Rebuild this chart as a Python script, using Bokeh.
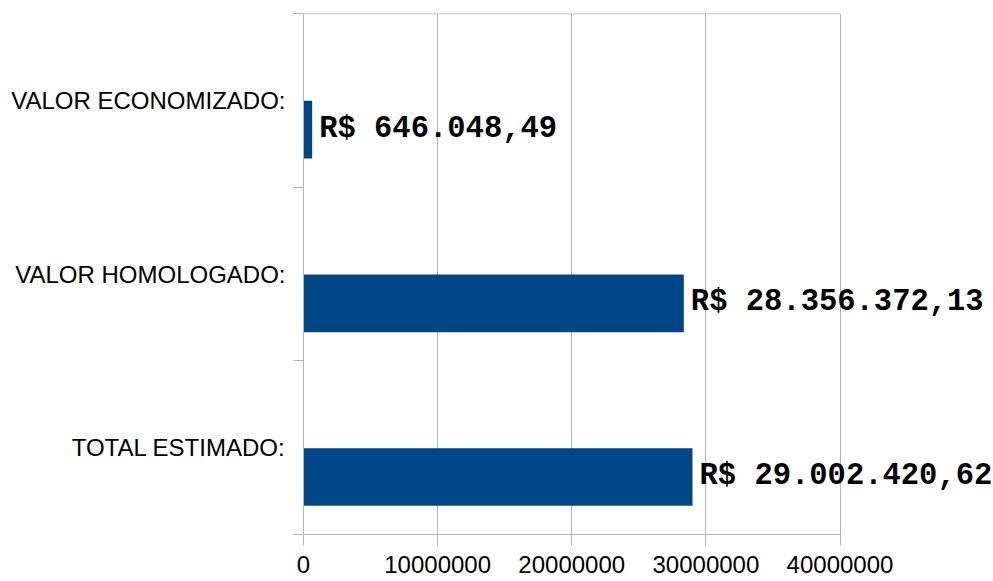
from bokeh.plotting import figure
from bokeh.models import ColumnDataSource, Range1d, FixedTicker, LabelSet
from bokeh.core.properties import value
from bokeh.embed import file_html
from bokeh.resources import INLINE

# Data (bottom to top)
categories = ["TOTAL ESTIMADO:", "VALOR HOMOLOGADO:", "VALOR ECONOMIZADO:"]
values = [29002420.62, 28356372.13, 646048.49]
x_ticks = [0, 10000000, 20000000, 30000000, 40000000]
x_tick_labels = ["0", "10000000", "20000000", "30000000", "40000000"]


def brl(v):
    s = f"{v:,.2f}"
    s = s.replace(",", "X").replace(".", ",").replace("X", ".")
    return "R$ " + s


labels = [brl(v) for v in values]

GRID = "#b3b3b3"
BAR = "#004586"
BAR_SHIFT = -0.169   # bars sit slightly below the category centre
BAR_H = 0.332

n = len(categories)
centers = [i + 0.5 for i in range(n)]
bar_y = [c + BAR_SHIFT for c in centers]
x_axis_max = x_ticks[-1]
# the frame is widened past the last tick so the value labels are not clipped
x_view_max = x_axis_max * 690 / 536.5

source = ColumnDataSource(data=dict(cat=categories, y=bar_y, val=values, lab=labels))

p = figure(width=993, height=581, x_range=Range1d(0, x_view_max), y_range=Range1d(0, n),
           output_backend="svg", toolbar_location=None,
           min_border_left=303, min_border_right=0, min_border_top=13, min_border_bottom=47)

p.outline_line_color = None
p.background_fill_color = "white"
p.border_fill_color = "white"

# top border of the plot area
p.segment(x0=[0], y0=[n], x1=[x_axis_max], y1=[n], line_color=GRID, line_width=1.5)

p.hbar(y="y", right="val", left=0, height=BAR_H,
       source=source, fill_color=BAR, line_color=None)

lbl = LabelSet(x="val", y="y", text="lab", source=source,
               x_offset=7, y_offset=1, text_baseline="middle", text_align="left",
               text_font=value("Liberation Mono"), text_font_style="bold",
               text_font_size="30.5px", text_color="black")
p.add_layout(lbl)

ya = p.yaxis[0]
ya.ticker = FixedTicker(ticks=centers, minor_ticks=list(range(n + 1)))
ya.major_label_overrides = {c: cat for c, cat in zip(centers, categories)}
ya.axis_line_color = GRID
ya.major_tick_line_color = None
ya.major_tick_out = 10
ya.major_tick_in = 0
ya.minor_tick_out = 10
ya.minor_tick_in = 0
ya.minor_tick_line_color = GRID
ya.major_label_standoff = 8
ya.major_label_text_font = "Liberation Sans"
ya.major_label_text_font_size = "24px"
ya.major_label_text_color = "black"

xa = p.xaxis[0]
xa.ticker = FixedTicker(ticks=x_ticks, minor_ticks=[])
xa.bounds = (0, x_axis_max)
xa.major_label_overrides = {t: l for t, l in zip(x_ticks, x_tick_labels)}
xa.axis_line_color = GRID
xa.major_tick_line_color = GRID
xa.major_tick_out = 11
xa.major_tick_in = 0
xa.minor_tick_line_color = None
xa.major_label_standoff = 10
xa.major_label_text_font = "Liberation Sans"
xa.major_label_text_font_size = "24px"
xa.major_label_text_color = "black"

p.xgrid.ticker = FixedTicker(ticks=x_ticks)
p.xgrid.grid_line_color = GRID
p.ygrid.grid_line_color = None

open("out.html", "w").write(file_html(p, INLINE))
